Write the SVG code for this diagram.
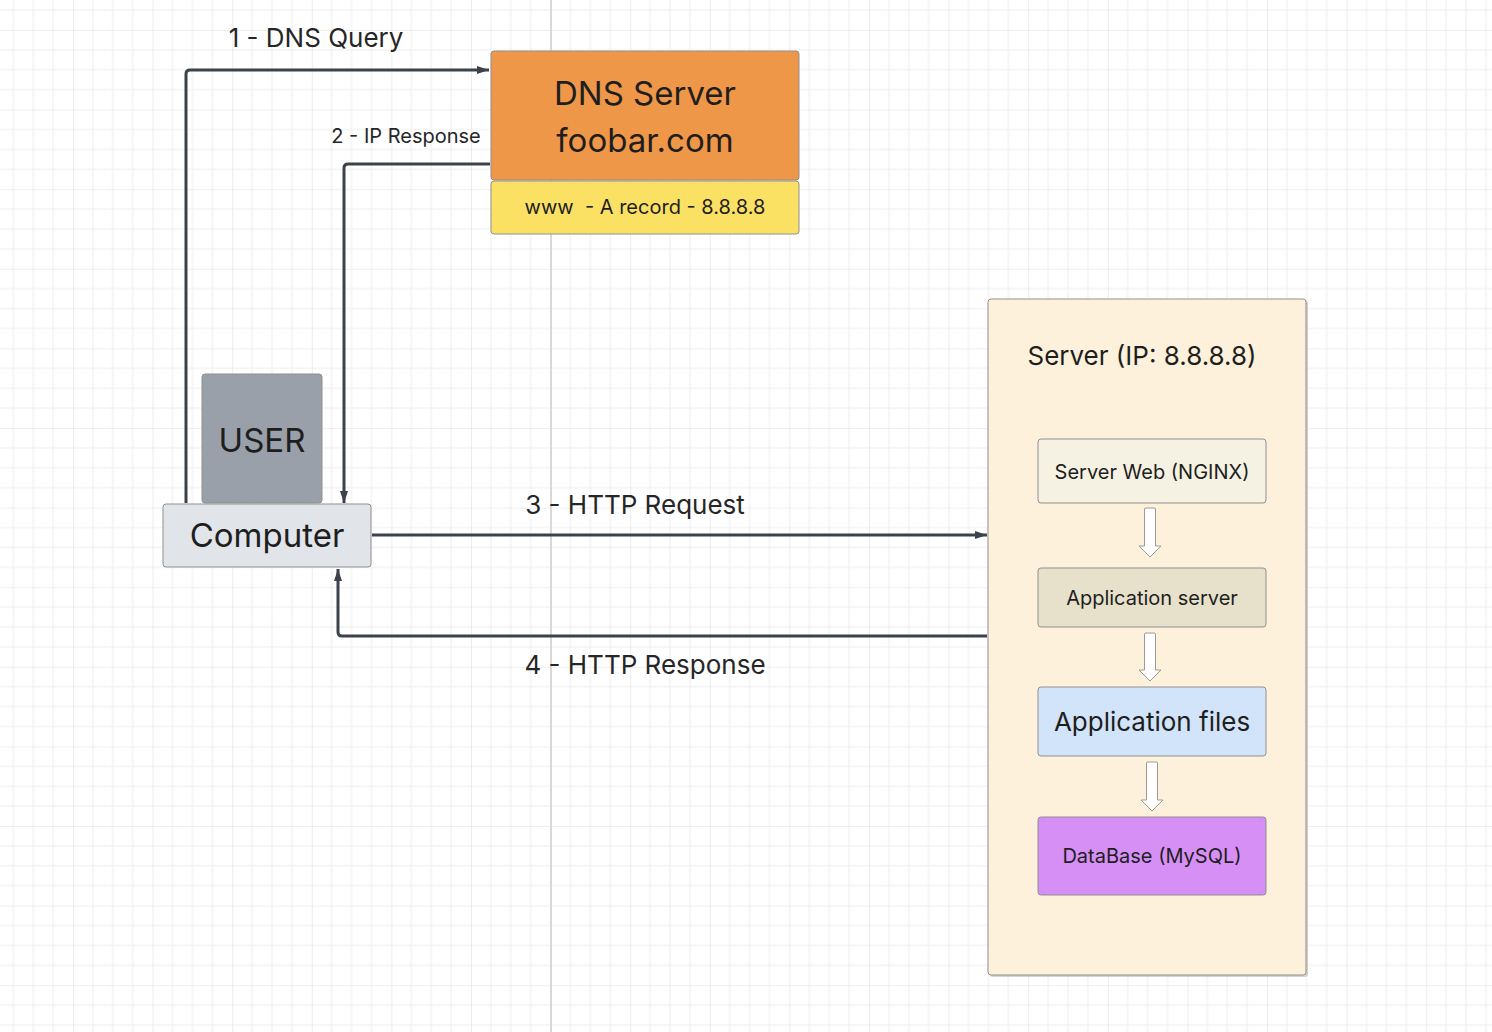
<svg xmlns="http://www.w3.org/2000/svg" width="1492" height="1032" viewBox="0 0 1492 1032">
<style>
text{font-family:Inter,"Noto Sans","Liberation Sans",sans-serif;fill:#1e1e1e;text-anchor:middle}
.box{stroke:#8f8f8f;stroke-width:1}
.con{fill:none;stroke:#3c424b;stroke-width:3;stroke-linejoin:round}
.blk{fill:#ffffff;stroke:#9a9a9a;stroke-width:1;stroke-linejoin:round}
.lbl{fill:#262626}
</style>
<defs>
<pattern id="grid" patternUnits="userSpaceOnUse" x="73" y="30" width="79.6" height="79.6">
<path d="M19.9 0V79.6M39.8 0V79.6M59.7 0V79.6M0 19.9H79.6M0 39.8H79.6M0 59.7H79.6" stroke="#eeeeee" stroke-width="1" fill="none"/>
<path d="M0 0V79.6M0 0H79.6" stroke="#e0e0e0" stroke-width="1.2" fill="none"/>
</pattern>
<marker id="ah" viewBox="0 0 12 10" refX="12" refY="5" markerWidth="12" markerHeight="10" markerUnits="userSpaceOnUse" orient="auto">
<path d="M0 1L12 5L0 9Z" fill="#3c424b"/>
</marker>
</defs>
<rect width="1492" height="1032" fill="#ffffff"/>
<rect width="1492" height="1032" fill="url(#grid)"/>
<line x1="551" y1="0" x2="551" y2="1032" stroke="#d8d8d8" stroke-width="2"/>

<g id="connectors">
<path class="con" d="M186 503V74Q186 70 190 70H489" marker-end="url(#ah)"/>
<path class="con" d="M490 164H348Q344 164 344 168V503" marker-end="url(#ah)"/>
<path class="con" d="M372 535H987" marker-end="url(#ah)"/>
<path class="con" d="M987 636H342Q338 636 338 632V569" marker-end="url(#ah)"/>
<text class="lbl" x="316" y="47" font-size="26">1 - DNS Query</text>
<text class="lbl" x="406" y="143" font-size="20">2 - IP Response</text>
<text class="lbl" x="635" y="514" font-size="26">3 - HTTP Request</text>
<text class="lbl" x="645" y="674" font-size="26">4 - HTTP Response</text>
</g>

<g id="dns-server">
<rect class="box" x="491" y="51" width="308" height="129" rx="3" fill="#ef9749"/>
<text x="645" y="105" font-size="33">DNS Server</text>
<text x="645" y="152" font-size="33">foobar.com</text>
</g>
<g id="dns-record">
<rect class="box" x="491" y="181" width="308" height="53" rx="3" fill="#fbe163"/>
<text x="645" y="214" font-size="20" xml:space="preserve">www  - A record - 8.8.8.8</text>
</g>

<g id="user">
<rect class="box" x="202" y="374" width="120" height="129" rx="3" fill="#9aa0a9"/>
<text x="262" y="452" font-size="33">USER</text>
</g>
<g id="computer">
<rect class="box" x="163" y="504" width="208" height="63" rx="3" fill="#e1e4e8"/>
<text x="267" y="547" font-size="33">Computer</text>
</g>

<g id="server">
<rect x="990" y="301" width="318" height="676" rx="3" fill="#bdb6a8" opacity="0.6"/>
<rect class="box" x="988" y="299" width="318" height="676" rx="3" fill="#fdf1db" stroke="#b8b0a2"/>
<text x="1142" y="365" font-size="26">Server (IP: 8.8.8.8)</text>
</g>

<g id="web-server">
<rect class="box" x="1038" y="439" width="228" height="64" rx="3" fill="#f6f2e3"/>
<text x="1152" y="479" font-size="20">Server Web (NGINX)</text>
</g>
<g id="app-server">
<rect class="box" x="1038" y="568" width="228" height="59" rx="3" fill="#e7e1cb"/>
<text x="1152" y="605" font-size="20">Application server</text>
</g>
<g id="app-files">
<rect class="box" x="1038" y="687" width="228" height="69" rx="3" fill="#d2e4fa"/>
<text x="1152" y="731" font-size="26">Application files</text>
</g>
<g id="database">
<rect class="box" x="1038" y="817" width="228" height="78" rx="3" fill="#d690f5"/>
<text x="1152" y="863" font-size="20">DataBase (MySQL)</text>
</g>

<g id="flow-arrows">
<path class="blk" d="M1144.5 509Q1144.5 508 1146 508H1154Q1155.5 508 1155.5 509V546H1161L1150 557L1139 546H1144.5Z"/>
<path class="blk" d="M1144.5 634Q1144.5 633 1146 633H1154Q1155.5 633 1155.5 634V670H1161L1150 681L1139 670H1144.5Z"/>
<path class="blk" d="M1146.5 763Q1146.5 762 1148 762H1156Q1157.5 762 1157.5 763V800H1163L1152 811L1141 800H1146.5Z"/>
</g>
</svg>
